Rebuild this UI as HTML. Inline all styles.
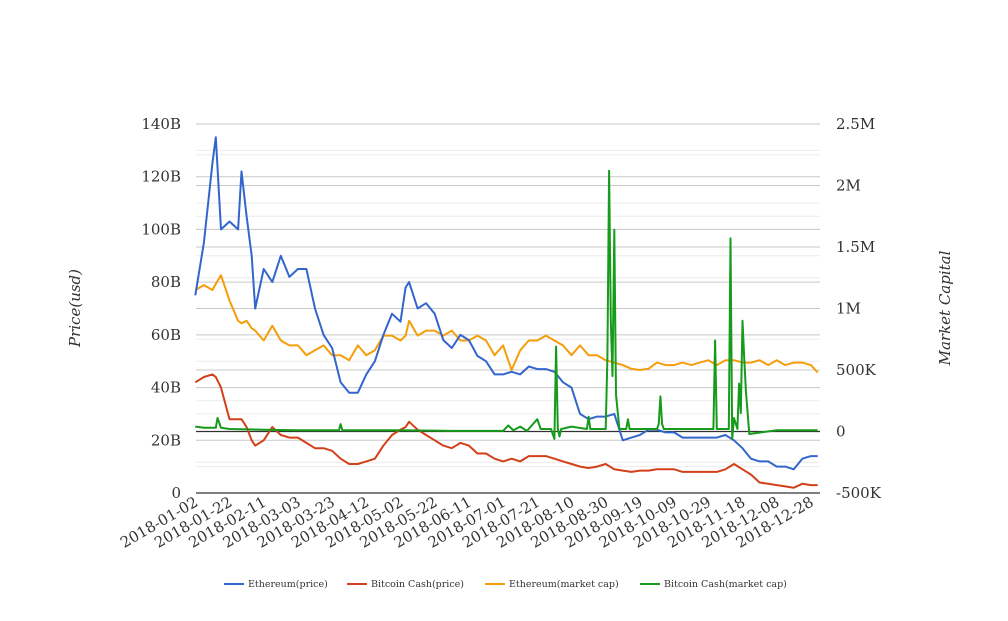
<!DOCTYPE html>
<html><head><meta charset="utf-8"><style>
body{margin:0;background:#fff}
svg text{font-family:"DejaVu Serif","Liberation Serif",serif;fill:#333}
</style></head><body>
<svg id="c" width="1008" height="616"></svg>
<script>
const days=[0,5,10,12,15,20,25,27,30,33,35,40,45,50,55,60,65,70,75,80,85,90,95,100,105,110,115,120,123,125,130,135,140,145,150,155,160,165,170,175,180,185,190,195,200,205,210,215,220,225,230,235,240,245,250,255,260,265,270,275,280,285,290,295,300,305,310,315,320,325,330,335,340,345,350,355,360,364];
const ethPrice=[75,95,125,135,100,103,100,122,105,90,70,85,80,90,82,85,85,70,60,55,42,38,38,45,50,60,68,65,78,80,70,72,68,58,55,60,58,52,50,45,45,46,45,48,47,47,46,42,40,30,28,29,29,30,20,21,22,24,24,23,23,21,21,21,21,21,22,20,17,13,12,12,10,10,9,13,14,14];
const bchPrice=[42,44,45,44,40,28,28,28,25,20,18,20,25,22,21,21,19,17,17,16,13,11,11,12,13,18,22,24,25,27,24,22,20,18,17,19,18,15,15,13,12,13,12,14,14,14,13,12,11,10,9.5,10,11,9,8.5,8,8.5,8.5,9,9,9,8,8,8,8,8,9,11,9,7,4,3.5,3,2.5,2,3.5,3,3];
const ethCap=[1150,1190,1150,1200,1270,1065,900,880,900,840,820,740,860,740,700,700,620,660,700,620,620,580,700,620,660,780,780,740,780,900,780,820,820,780,820,740,740,780,740,620,700,500,660,740,740,780,740,700,620,700,620,620,580,560,540,510,500,510,560,540,540,560,540,560,580,540,580,580,560,560,580,540,580,540,560,560,540,480];
const bchDays=[0,5,10,12,13,15,20,40,60,84,85,86,120,150,180,183,186,190,194,200,202,208,210,211,212,213,214,220,229,230,231,240,241,242,243,244,245,246,248,252,253,254,270,271,272,273,274,290,303,304,305,312,313,314,315,317,318,319,320,321,322,324,340,364];
const bchCap=[40,30,30,30,110,30,20,15,10,10,60,10,10,5,5,50,10,40,5,100,20,20,-60,690,20,-40,20,40,20,120,20,20,600,2120,900,450,1640,300,20,20,100,20,20,60,285,60,20,20,20,740,20,20,1570,-60,110,20,390,150,900,600,330,-20,10,10];
const leftTicks=[0,20,40,60,80,100,120,140];
const leftLabels=["0","20B","40B","60B","80B","100B","120B","140B"];
const rightTicks=[-500,0,500,1000,1500,2000,2500];
const rightLabels=["-500K","0","500K","1M","1.5M","2M","2.5M"];
const xTickDays=[1,21,41,61,81,101,121,141,161,181,201,221,241,261,281,301,321,341,361];
const xTickLabels=["2018-01-02","2018-01-22","2018-02-11","2018-03-03","2018-03-23","2018-04-12","2018-05-02","2018-05-22","2018-06-11","2018-07-01","2018-07-21","2018-08-10","2018-08-30","2018-09-19","2018-10-09","2018-10-29","2018-11-18","2018-12-08","2018-12-28"];

const svg=document.getElementById('c');const NS='http://www.w3.org/2000/svg';
const L=196,R=820,B=493,T=124;
const x=d=>195.3+d*1.71;
const yl=v=>B-(v/140)*(B-T);
const yr=v=>B-((v+500)/3000)*(B-T);
function mk(t,a,p){const e=document.createElementNS(NS,t);for(const k in a)e.setAttribute(k,a[k]);(p||svg).appendChild(e);return e;}
const grid=mk('g',{});
for(let v=10;v<=140;v+=20){mk('line',{x1:L,x2:R,y1:yl(v),y2:yl(v),stroke:'#ececec'},grid);}
for(let v=-250;v<=2500;v+=500){mk('line',{x1:L,x2:R,y1:yr(v),y2:yr(v),stroke:'#ececec'},grid);}
leftTicks.forEach((v,i)=>{if(v>0)mk('line',{x1:L,x2:R,y1:yl(v),y2:yl(v),stroke:'#c8c8c8'},grid);
 const t=mk('text',{x:181,y:yl(v)+5,'text-anchor':'end','font-size':15});t.textContent=leftLabels[i];
 });
rightTicks.forEach((v,i)=>{if(v>-500&&v!==0)mk('line',{x1:L,x2:R,y1:yr(v),y2:yr(v),stroke:'#c8c8c8'},grid);
 const t=mk('text',{x:836,y:yr(v)+5,'font-size':15});t.textContent=rightLabels[i];
 });
const z=mk('line',{x1:L,x2:R,y1:yr(0),y2:yr(0),stroke:'#333','stroke-width':1.3});

const ax=mk('line',{x1:L,x2:R,y1:B,y2:B,stroke:'#333','stroke-width':1.3});

xTickDays.forEach((d,i)=>{const t=mk('text',{transform:`translate(${x(d)+2},${505}) rotate(-30)`,'text-anchor':'end','font-size':15});
 t.textContent=xTickLabels[i];});
function line(ds,vs,f,col,name){const p=mk('polyline',{points:ds.map((d,i)=>x(d).toFixed(1)+','+f(vs[i]).toFixed(1)).join(' '),fill:'none',stroke:col,'stroke-width':2,'stroke-linejoin':'round'});
 }
line(days,ethCap,yr,'#f59d0a','ethereum-market-cap-line');
line(days,ethPrice,yl,'#3366cc','ethereum-price-line');
line(days,bchPrice,yl,'#d2401a','bitcoin-cash-price-line');
line(bchDays,bchCap,yr,'#169b1b','bitcoin-cash-market-cap-line');
const t1=mk('text',{transform:'translate(80,308) rotate(-90)','text-anchor':'middle','font-size':15,'font-style':'italic'});t1.textContent='Price(usd)';

const t2=mk('text',{transform:'translate(950,308) rotate(-90)','text-anchor':'middle','font-size':15,'font-style':'italic'});t2.textContent='Market Capital';

const leg=[['Ethereum(price)','#3366cc',224],['Bitcoin Cash(price)','#d2401a',347],['Ethereum(market cap)','#f59d0a',485],['Bitcoin Cash(market cap)','#169b1b',640]];
leg.forEach(l=>{const g=mk('g',{});
 mk('line',{x1:l[2],x2:l[2]+20,y1:584,y2:584,stroke:l[1],'stroke-width':2},g);
 const t=mk('text',{x:l[2]+24,y:587,'font-size':9.5},g);t.textContent=l[0];});
</script></body></html>
